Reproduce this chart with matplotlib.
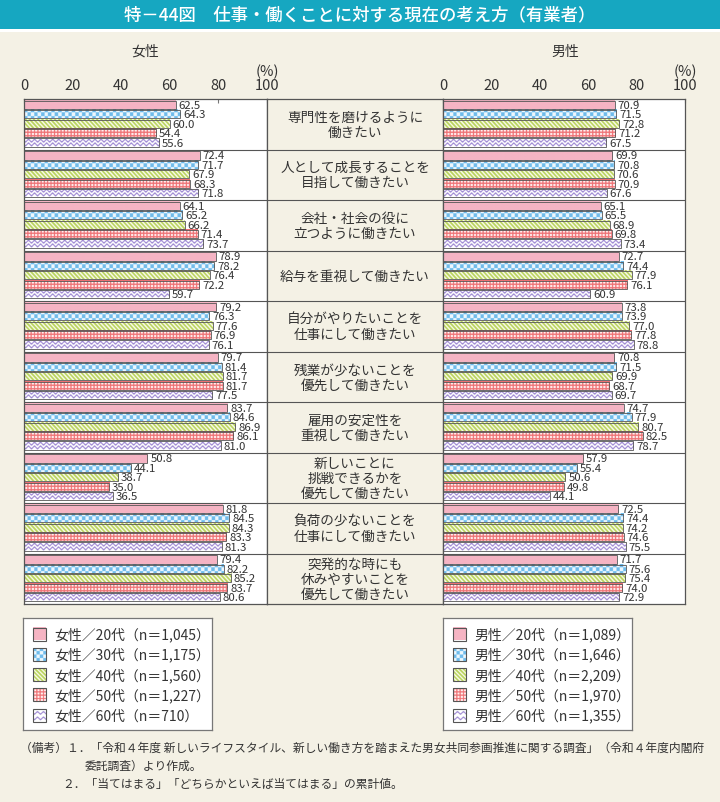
import numpy as np
import matplotlib
matplotlib.use("Agg")
import matplotlib.pyplot as plt
from matplotlib.patches import Rectangle

plt.rcParams['font.family'] = ['Noto Sans CJK JP', 'DejaVu Sans']

# ---------------- data ----------------
categories = [
    "専門性を磨けるように\n働きたい",
    "人として成長することを\n目指して働きたい",
    "会社・社会の役に\n立つように働きたい",
    "給与を重視して働きたい",
    "自分がやりたいことを\n仕事にして働きたい",
    "残業が少ないことを\n優先して働きたい",
    "雇用の安定性を\n重視して働きたい",
    "新しいことに\n挑戦できるかを\n優先して働きたい",
    "負荷の少ないことを\n仕事にして働きたい",
    "突発的な時にも\n休みやすいことを\n優先して働きたい",
]

female_20 = [62.5, 72.4, 64.1, 78.9, 79.2, 79.7, 83.7, 50.8, 81.8, 79.4]
female_30 = [64.3, 71.7, 65.2, 78.2, 76.3, 81.4, 84.6, 44.1, 84.5, 82.2]
female_40 = [60.0, 67.9, 66.2, 76.4, 77.6, 81.7, 86.9, 38.7, 84.3, 85.2]
female_50 = [54.4, 68.3, 71.4, 72.2, 76.9, 81.7, 86.1, 35.0, 83.3, 83.7]
female_60 = [55.6, 71.8, 73.7, 59.7, 76.1, 77.5, 81.0, 36.5, 81.3, 80.6]

male_20 = [70.9, 69.9, 65.1, 72.7, 73.8, 70.8, 74.7, 57.9, 72.5, 71.7]
male_30 = [71.5, 70.8, 65.5, 74.4, 73.9, 71.5, 77.9, 55.4, 74.4, 75.6]
male_40 = [72.8, 70.6, 68.9, 77.9, 77.0, 69.9, 80.7, 50.6, 74.2, 75.4]
male_50 = [71.2, 70.9, 69.8, 76.1, 77.8, 68.7, 82.5, 49.8, 74.6, 74.0]
male_60 = [67.5, 67.6, 73.4, 60.9, 78.8, 69.7, 78.7, 44.1, 75.5, 72.9]

female_labels = ["女性／20代（n＝1,045）", "女性／30代（n＝1,175）", "女性／40代（n＝1,560）",
                 "女性／50代（n＝1,227）", "女性／60代（n＝710）"]
male_labels = ["男性／20代（n＝1,089）", "男性／30代（n＝1,646）", "男性／40代（n＝2,209）",
               "男性／50代（n＝1,970）", "男性／60代（n＝1,355）"]

xticks = [0, 20, 40, 60, 80, 100]

title = "特－44図　仕事・働くことに対する現在の考え方（有業者）"
notes = [
    "（備考）１．「令和４年度 新しいライフスタイル、新しい働き方を踏まえた男女共同参画推進に関する調査」（令和４年度内閣府",
    "委託調査）より作成。",
    "２．「当てはまる」「どちらかといえば当てはまる」の累計値。",
]

# ---------------- styles ----------------
BG = "#f4f1e5"
TEAL = "#16a7c1"
EDGE = "#555555"
TXT = "#333333"
kinds = ["solid", "checker", "stripes", "grid", "wave"]

W, H = 720, 803
fig = plt.figure(figsize=(W / 100, H / 100), dpi=100)
fig.patch.set_facecolor(BG)


def fx(x):
    return x / W


def fy(y):
    return 1 - y / H


def hexc(h):
    h = h.lstrip('#')
    return np.array([int(h[i:i + 2], 16) / 255 for i in (0, 2, 4)])


def pattern(kind, wpx, hpx, ss=4):
    Wd = max(int(round(wpx * ss)), 1)
    Hd = max(int(round(hpx * ss)), 1)
    x = (np.arange(Wd) + 0.5) / ss
    y = (np.arange(Hd) + 0.5) / ss
    X, Y = np.meshgrid(x, y)
    img = np.ones((Hd, Wd, 3))
    if kind == "solid":
        img[:] = hexc("f5b4c4")
    elif kind == "checker":
        cs = 3.4
        m = ((np.floor(X / cs) + np.floor((Y + 0.3) / cs)) % 2) == 0
        img[:] = hexc("eef7fd")
        img[m] = hexc("6fbcec")
    elif kind == "stripes":
        p = 4.2
        m = ((X - Y) % p) < p * 0.55
        img[:] = hexc("fbfbee")
        img[m] = hexc("b9d35c")
    elif kind == "grid":
        p = 3.3
        lw = 1.2
        m = ((X % p) < lw) | ((Y % p) < lw)
        img[:] = hexc("fff1f1")
        img[m] = hexc("ee6f72")
    elif kind == "wave":
        img[:] = hexc("ffffff")
        for yc in (hpx * 0.3, hpx * 0.72):
            d = np.abs(Y - (yc + 1.1 * np.sin(2 * np.pi * X / 6.0)))
            img[d < 0.75] = hexc("9c86d2")
    return img


def draw_panel(ax, series, pxu):
    group_px = 505 / 10
    step = 0.186
    bh = 0.162
    for s, vals in enumerate(series):
        for i, v in enumerate(vals):
            yc = i + 0.49 + (s - 2) * step
            img = pattern(kinds[s], v * pxu, bh * group_px)
            ax.imshow(img, extent=[0, v, yc + bh / 2, yc - bh / 2], aspect='auto',
                      origin='upper', zorder=2)
            ax.barh(yc, v, height=bh, left=0, fill=False, edgecolor=EDGE,
                    linewidth=0.6, zorder=3)
            ax.text(v + 1.2, yc, f"{v:.1f}", fontsize=8.2, color=TXT,
                    va='center', ha='left', zorder=4)
    ax.set_xlim(0, 100)
    ax.set_ylim(10, 0)
    ax.set_facecolor("white")
    for k in range(1, 10):
        ax.axhline(k, color=EDGE, lw=0.8, zorder=1)
    ax.xaxis.tick_top()
    ax.set_xticks(xticks)
    ax.set_xticklabels([str(t) for t in xticks])
    ax.tick_params(axis='x', direction='in', length=3, color='#777777',
                   labelsize=10.5, labelcolor=TXT, pad=5)
    ax.set_yticks([])
    for sp in ax.spines.values():
        sp.set_color(EDGE)
        sp.set_linewidth(0.9)
    ax.text(1.0, 1.0 + 21 / 505, "(%)", transform=ax.transAxes, fontsize=10.5,
            color=TXT, ha='center', va='bottom')


top, bottom = 100, 605
axL = fig.add_axes([fx(24), fy(bottom), 243 / W, (bottom - top) / H])
axC = fig.add_axes([fx(267), fy(bottom), 176 / W, (bottom - top) / H])
axR = fig.add_axes([fx(443), fy(bottom), 242 / W, (bottom - top) / H])

draw_panel(axL, [female_20, female_30, female_40, female_50, female_60], 2.43)
draw_panel(axR, [male_20, male_30, male_40, male_50, male_60], 2.42)

# center column
axC.set_facecolor(BG)
axC.set_xlim(0, 1)
axC.set_ylim(10, 0)
axC.set_xticks([])
axC.set_yticks([])
for sp in axC.spines.values():
    sp.set_color(EDGE)
    sp.set_linewidth(0.9)
for k in range(1, 10):
    axC.axhline(k, color=EDGE, lw=0.8)
for i, cat in enumerate(categories):
    axC.text(0.5, i + 0.5, cat, ha='center', va='center', fontsize=9.8,
             color=TXT, linespacing=1.1)

# panel headers
fig.text(fx(145), fy(52), "女性", ha='center', va='center', fontsize=10, color=TXT)
fig.text(fx(565), fy(52), "男性", ha='center', va='center', fontsize=10, color=TXT)

# title bar
fig.patches.append(Rectangle((0, fy(30)), 1, 30 / H, transform=fig.transFigure,
                             facecolor=TEAL, edgecolor='none', zorder=0))
fig.patches.append(Rectangle((0, fy(33)), 1, 3 / H, transform=fig.transFigure,
                             facecolor='white', edgecolor='none', zorder=0))
fig.text(0.5, fy(15), title, ha='center', va='center', fontsize=12.5, color='white',
         fontweight='medium')


# legends
def draw_legend(x0, labels):
    lw_, lh_ = 189, 112
    axg = fig.add_axes([fx(x0), fy(619 + lh_), lw_ / W, lh_ / H])
    axg.set_facecolor("white")
    axg.set_xticks([])
    axg.set_yticks([])
    for sp in axg.spines.values():
        sp.set_color("#777777")
        sp.set_linewidth(0.9)
    for k, lab in enumerate(labels):
        yc = 16 + k * 20.3
        img = pattern(kinds[k], 13, 13)
        axg.imshow(img, extent=[10, 23, yc + 6.5, yc - 6.5], aspect='auto', origin='upper')
        axg.add_patch(Rectangle((10, yc - 6.5), 13, 13, fill=False, edgecolor=EDGE, lw=0.8))
        axg.text(31, yc, lab, va='center', ha='left', fontsize=10, color=TXT)
    axg.set_xlim(0, lw_)
    axg.set_ylim(lh_, 0)


draw_legend(23, female_labels)
draw_legend(443, male_labels)

# notes
fig.text(fx(20), fy(748), notes[0], ha='left', va='center', fontsize=8.5, color=TXT)
fig.text(fx(85), fy(766), notes[1], ha='left', va='center', fontsize=8.5, color=TXT)
fig.text(fx(62), fy(784), notes[2], ha='left', va='center', fontsize=8.5, color=TXT)

fig.savefig("out.png", dpi=100, facecolor=BG)
